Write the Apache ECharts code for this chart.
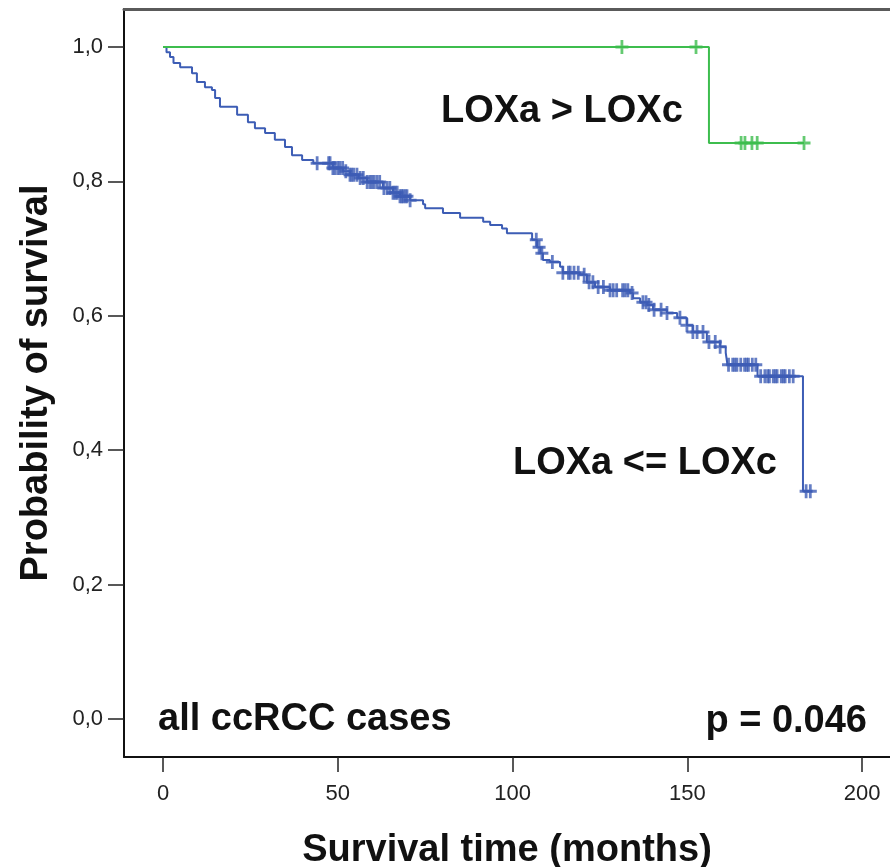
<!DOCTYPE html>
<html>
<head>
<meta charset="utf-8">
<script src="https://cdn.jsdelivr.net/npm/echarts@6.0.0/dist/echarts.min.js"></script>
<style>
  html, body { margin: 0; padding: 0; background: #fff; }
  #chart { width: 890px; height: 867px; }
</style>
</head>
<body>
<div id="chart"></div>
<script>
// Kaplan-Meier: LOXa <= LOXc (blau) vs LOXa > LOXc (grün)
const xTicks = [0, 50, 100, 150, 200];
const yTicks = [0, 0.2, 0.4, 0.6, 0.8, 1.0];

// Stufen (Zeit, Überleben nach dem Ereignis)
const blueTime = [0, 1.0, 2.0, 3.0, 4.9, 8.3, 9.7, 12.0, 14.0, 14.9, 16.3, 21.2, 24.3, 26.3, 29.2, 32.0,
  34.9, 36.9, 39.8, 43.0, 48.6, 51.5, 53.5, 56.0, 58.4, 62.9, 65.8, 67.8, 70.7, 74.4, 75.0, 80.1,
  85.0, 91.6, 93.6, 97.0, 98.4, 105.6, 107.0, 108.0, 108.7, 110.7, 113.6, 114.4, 119.3, 121.3, 123.6,
  127.9, 133.6, 134.5, 136.5, 138.5, 140.2, 144.2, 147.1, 149.9, 151.6, 155.6, 159.4, 161.0, 161.5,
  170.1, 183.1, 185.7];
const blueSurv = [1.000, 0.992, 0.985, 0.976, 0.970, 0.961, 0.948, 0.940, 0.936, 0.924, 0.911, 0.899, 0.888, 0.879, 0.872, 0.862,
  0.851, 0.839, 0.832, 0.827, 0.820, 0.815, 0.810, 0.805, 0.799, 0.790, 0.783, 0.778, 0.772, 0.766, 0.760, 0.753,
  0.746, 0.740, 0.735, 0.730, 0.723, 0.713, 0.702, 0.693, 0.683, 0.680, 0.673, 0.664, 0.661, 0.650, 0.643,
  0.638, 0.634, 0.626, 0.620, 0.616, 0.609, 0.604, 0.597, 0.586, 0.576, 0.561, 0.554, 0.545, 0.527,
  0.510, 0.339, 0.339];
const blueCens = [44.1, 47.4, 47.8, 48.6, 49.2, 50.0, 50.6, 51.4, 52.3, 53.5, 54.0, 54.6, 55.5, 56.4, 57.3,
  58.4, 59.2, 59.8, 60.4, 61.2, 62.0, 63.2, 64.1, 64.9, 65.8, 66.4, 67.0, 67.8, 68.3, 68.7, 69.3, 69.8,
  70.7, 106.8, 107.6, 108.4, 111.4, 114.4, 116.0, 116.5, 117.6, 118.8, 120.5, 121.9, 123.0,
  124.5, 126.0, 127.9, 128.8, 129.8, 131.5, 132.2, 133.0, 134.2, 137.3, 138.2, 139.0, 140.5, 142.5,
  144.2, 147.9, 149.9, 151.6, 152.8, 154.5, 156.2, 158.0, 159.4, 161.8, 163.0, 163.6, 164.2, 165.3,
  166.4, 167.0, 167.5, 168.6, 169.6, 171.0, 172.2, 173.0, 173.5, 174.6, 175.2, 175.7, 176.9, 177.5,
  178.0, 179.2, 180.3, 184.0, 185.2];

const greenTime = [0, 156.2, 183.4];
const greenSurv = [1.000, 0.857, 0.857];
const greenCens = [131.3, 152.5, 165.4, 166.5, 168.5, 170.0, 183.4];

const BLUE = "#3d5db5", GREEN = "#3dbd4e";
const PLUS = "path://M5.5,0h3v5.5h5.5v3h-5.5v5.5h-3v-5.5h-5.5v-3h5.5z";
const FONT = "Liberation Sans, Arial, sans-serif";

const steps = (t, s) => t.map((x, i) => [x, s[i]]);
function survAt(t, s, x) {
  let v = s[0];
  for (let i = 0; i < t.length; i++) if (t[i] <= x) v = s[i];
  return v;
}
const cens = (c, t, s) => c.map(x => [x, survAt(t, s, x)]);

const chart = echarts.init(document.getElementById("chart"));
chart.setOption({
  animation: false,
  backgroundColor: "#fff",
  grid: { left: 124, top: 9, bottom: 110, right: 0, containLabel: false, outerBoundsMode: "none" },
  xAxis: [{
    type: "value", min: -11.16, max: 208.0,
    name: "Survival time (months)", nameLocation: "middle", nameGap: 75,
    nameTextStyle: { fontFamily: FONT, fontWeight: "bold", fontSize: 38, color: "#111" },
    axisLine: { show: true, onZero: false, lineStyle: { color: "#111", width: 2 } },
    axisTick: { show: true, customValues: xTicks, length: 15, lineStyle: { color: "#222", width: 1.5 } },
    axisLabel: { customValues: xTicks, margin: 26, fontFamily: FONT, fontSize: 22, color: "#222" },
    splitLine: { show: false }
  }, {
    type: "value", position: "top", min: -11.16, max: 208.0,
    axisLine: { show: true, onZero: false, lineStyle: { color: "#5a5a5a", width: 3 } },
    axisTick: { show: false }, axisLabel: { show: false }, splitLine: { show: false }
  }],
  yAxis: {
    type: "value", min: -0.0565, max: 1.0565,
    name: "Probability of survival", nameLocation: "middle", nameGap: 68, nameRotate: 90,
    nameTextStyle: { fontFamily: FONT, fontWeight: "bold", fontSize: 38, color: "#111" },
    axisLine: { show: true, onZero: false, lineStyle: { color: "#111", width: 2 } },
    axisTick: { show: true, customValues: yTicks, length: 16, lineStyle: { color: "#222", width: 1.5 } },
    axisLabel: { customValues: yTicks, margin: 21, fontFamily: FONT, fontSize: 22, color: "#222",
      formatter: v => v.toFixed(1).replace(".", ",") },
    splitLine: { show: false }
  },
  series: [
    { type: "line", step: "end", data: steps(blueTime, blueSurv), showSymbol: false,
      lineStyle: { color: BLUE, width: 2 }, z: 2 },
    { type: "scatter", data: cens(blueCens, blueTime, blueSurv), symbol: PLUS, symbolSize: [13, 14],
      itemStyle: { color: BLUE }, z: 3 },
    { type: "line", step: "end", data: steps(greenTime, greenSurv), showSymbol: false,
      lineStyle: { color: GREEN, width: 2 }, z: 2 },
    { type: "scatter", data: cens(greenCens, greenTime, greenSurv), symbol: PLUS, symbolSize: [13, 14],
      itemStyle: { color: GREEN }, z: 3 }
  ],
  graphic: [
    { type: "text", left: 441, top: 93, style: { text: "LOXa > LOXc", font: "bold 38px " + FONT, fill: "#111" } },
    { type: "text", left: 513, top: 445, style: { text: "LOXa <= LOXc", font: "bold 38px " + FONT, fill: "#111" } },
    { type: "text", left: 158, top: 701, style: { text: "all ccRCC cases", font: "bold 38px " + FONT, fill: "#111" } },
    { type: "text", right: 23, top: 703, style: { text: "p = 0.046", font: "bold 38px " + FONT, fill: "#111" } }
  ]
});
</script>
</body>
</html>
